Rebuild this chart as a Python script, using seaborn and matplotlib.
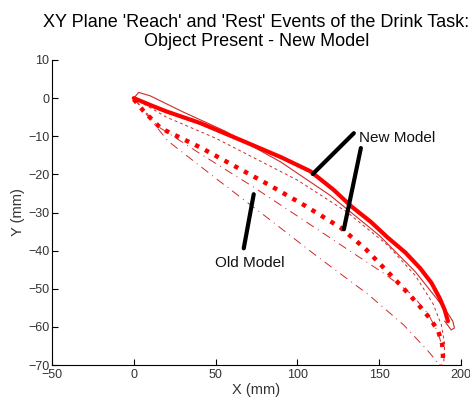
import matplotlib
matplotlib.use("Agg")
import matplotlib.pyplot as plt
import seaborn as sns
import pandas as pd

sns.set_theme(style="white")
plt.rcParams['font.family'] = ['Liberation Sans', 'DejaVu Sans']

# New model - reach (thick solid)
reach_new_x = [0, 10, 20, 41, 67, 90, 108, 122, 133, 145, 155, 166, 175, 182, 187, 190, 192]
reach_new_y = [0, -1.8, -3.5, -6.6, -11.3, -15.5, -19.2, -24.0, -28.4, -32.5, -36.5, -40.5, -44.6, -48.5, -52.5, -55.5, -58.5]

# New model - return loop (thin solid)
loop_new_x = [0, 3, 10, 30, 56, 90, 120, 150, 172, 185, 192, 195, 196, 194, 190]
loop_new_y = [0, 1.5, 0.6, -3.6, -8.7, -16.8, -25.5, -36.0, -45.5, -52.5, -56.5, -58.5, -60.3, -60.8, -58.5]

# New model - rest (thick dotted)
rest_new_x = [0, 6, 16.5, 41, 82, 105, 126.5, 142, 153, 164, 173.6, 181, 186, 188.5, 189, 188]
rest_new_y = [-0.3, -3.4, -7.9, -13.0, -22.6, -28.3, -34.0, -39.7, -44.6, -49.5, -54.0, -57.8, -61.0, -64.5, -67.7, -70.0]

# New model - thin dashed
dash_new_x = [0, 20, 50, 100, 130, 155, 172, 183, 188, 190, 189.5]
dash_new_y = [0, -5.0, -10.5, -21.5, -29.8, -38.5, -46.5, -54.0, -59.5, -64.5, -69.0]

# Old model - dash-dot lines
old1_x = [0, 15, 41, 72, 102, 130, 153, 170, 180, 186, 189]
old1_y = [0, -7.5, -14.7, -23.0, -31.5, -39.5, -46.0, -51.5, -56.7, -61.5, -66.0]
old2_x = [0, 10, 21, 50, 82, 112, 143, 165, 180, 186]
old2_y = [0, -5.5, -11.3, -21.0, -31.5, -41.5, -51.4, -59.5, -66.4, -69.5]

fig = plt.figure(figsize=(4.70, 4.03), dpi=100)
ax = fig.add_axes([52/470, 1-365/403, (461-52)/470, (365-60)/403])

red = "#ff0000"
dark = "#d02828"

def draw(x, y, **kw):
    df = pd.DataFrame({"x": x, "y": y})
    sns.lineplot(data=df, x="x", y="y", sort=False, estimator=None, ax=ax, **kw)

draw(old2_x, old2_y, color=dark, lw=0.7, linestyle=(0, (9, 5, 1, 5)))
draw(old1_x, old1_y, color=dark, lw=0.7, linestyle=(0, (9, 5, 1, 5)))
draw(dash_new_x, dash_new_y, color=dark, lw=0.7, linestyle=(0, (3, 3)))
draw(loop_new_x, loop_new_y, color=dark, lw=0.8)
draw(rest_new_x, rest_new_y, color=red, lw=3.2, linestyle=(0, (1, 1.5)))
draw(reach_new_x, reach_new_y, color=red, lw=3.0)

ax.set_xlim(-50, 200)
ax.set_ylim(-70, 10)
ax.set_xticks([-50, 0, 50, 100, 150, 200])
ax.set_yticks([10, 0, -10, -20, -30, -40, -50, -60, -70])
ax.set_xlabel("X (mm)", fontsize=10.5, color="#333333", labelpad=1)
ax.set_ylabel("Y (mm)", fontsize=10.5, color="#333333", labelpad=2)
ax.set_title("XY Plane 'Reach' and 'Rest' Events of the Drink Task:\nObject Present - New Model",
             fontsize=13, color="black", pad=10, linespacing=1.15)
ax.tick_params(direction="in", length=4, width=0.8, labelsize=9, colors="black",
               labelcolor="#333333", left=True, bottom=True)
ax.tick_params(axis="y", pad=2)
ax.tick_params(axis="x", pad=3)
for s in ["top", "right"]:
    ax.spines[s].set_visible(False)
for s in ["left", "bottom"]:
    ax.spines[s].set_color("black")
    ax.spines[s].set_linewidth(0.8)

# annotations
ax.text(137.5, -10.5, "New Model", fontsize=11, color="#111111", va="center", ha="left")
ax.text(70.6, -43.3, "Old Model", fontsize=11, color="#111111", va="center", ha="center")
ax.plot([134.5, 109.4], [-9.2, -19.9], color="black", lw=3)
ax.plot([138.8, 128.4], [-13.1, -34.4], color="black", lw=3)
ax.plot([67.2, 73.3], [-39.4, -25.2], color="black", lw=3)

fig.savefig("out.png", dpi=100)
